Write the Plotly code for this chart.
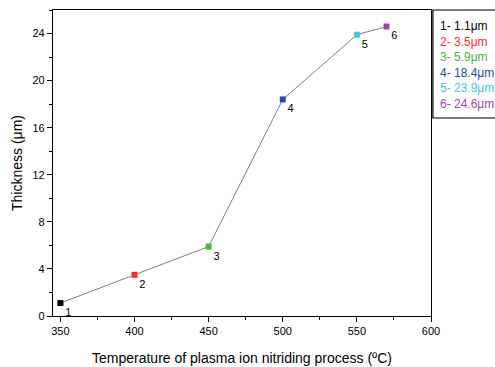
import plotly.graph_objects as go

temps = [350, 400, 450, 500, 550, 570]
thickness = [1.1, 3.5, 5.9, 18.4, 23.9, 24.6]
labels = ["1", "2", "3", "4", "5", "6"]
colors = ["#000000", "#ff2a2a", "#44b844", "#2a4aa8", "#44c8dc", "#a048a8"]
legend_texts = ["1- 1.1μm", "2- 3.5μm", "3- 5.9μm", "4- 18.4μm", "5- 23.9μm", "6- 24.6μm"]

fig = go.Figure()
fig.add_trace(go.Scatter(
    x=temps, y=thickness, mode="lines",
    line=dict(color="#808080", width=1), showlegend=False, hoverinfo="skip"))
fig.add_trace(go.Scatter(
    x=temps, y=thickness, mode="markers+text",
    marker=dict(symbol="square", size=6, color=colors),
    text=labels, textposition="bottom right",
    textfont=dict(family="Liberation Sans", size=11, color="#000"),
    showlegend=False))

axis_common = dict(
    showline=True, linecolor="#000", linewidth=1.2, mirror=True,
    ticks="outside", ticklen=5, tickcolor="#000", showgrid=False, zeroline=False,
    automargin=False,
    tickfont=dict(family="Liberation Sans", size=11, color="#000"),
)
fig.update_xaxes(range=[345, 600], dtick=50, tick0=350,
                 minor=dict(dtick=25, ticks="outside", ticklen=3, tickcolor="#000"),
                 title=dict(text="Temperature of plasma ion nitriding process (ºC)",
                            font=dict(family="Liberation Sans", size=14, color="#000"), standoff=16),
                 **axis_common)
fig.update_yaxes(range=[0, 26], dtick=4, tick0=0,
                 minor=dict(dtick=2, ticks="outside", ticklen=3, tickcolor="#000"),
                 title=dict(text="Thickness (μm)",
                            font=dict(family="Liberation Sans", size=14, color="#000"), standoff=6),
                 **axis_common)

legend_html = "<br>".join(
    f"<span style='color:{c}'>{t}</span>" for c, t in zip(colors, legend_texts))
fig.add_annotation(xref="paper", yref="paper", x=1.019, y=0.978,
                   xanchor="left", yanchor="top", align="left", showarrow=False,
                   text=legend_html,
                   font=dict(family="Liberation Sans", size=12, color="#000"))
fig.add_shape(type="rect", xref="paper", yref="paper",
              x0=1.005, x1=1.25, y0=0.647, y1=1.0,
              line=dict(color="#000", width=1.2))

fig.update_layout(
    width=495, height=367,
    margin=dict(l=53, r=64, t=10, b=51, autoexpand=False),
    paper_bgcolor="white", plot_bgcolor="white",
)
fig.write_html("out.html", config={"displayModeBar": False},
               post_script="document.body.style.margin='0';document.body.style.padding='0';")
